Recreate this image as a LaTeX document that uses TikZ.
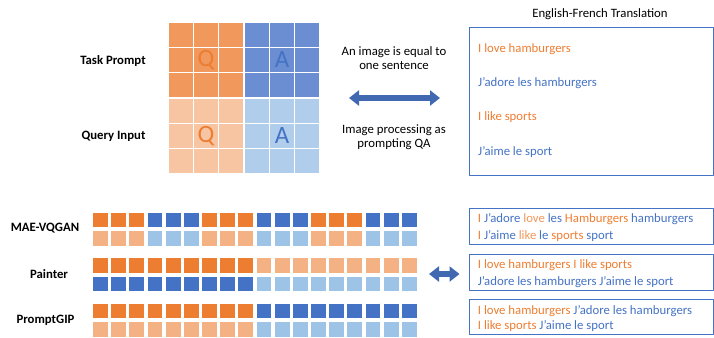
\documentclass[tikz,border=0pt]{standalone}
\usepackage{fontspec}
\setmainfont{Carlito}
\usepackage{xcolor}
\definecolor{qorange}{HTML}{ED7D31}
\definecolor{qorangel}{HTML}{F4B183}
\definecolor{qblue}{HTML}{4472C4}
\definecolor{qbluel}{HTML}{9DC3E6}
\definecolor{gorange}{HTML}{F1985C}
\definecolor{gorangel}{HTML}{F8C5A2}
\definecolor{gblue}{HTML}{6B8ED2}
\definecolor{gbluel}{HTML}{B0CEEB}
\definecolor{arrblue}{HTML}{4169B2}
\usepackage{tikz}
\usetikzlibrary{arrows.meta,positioning}
\tikzset{
  every picture/.style={line cap=round, line join=round},
  txt/.style={font=\fontsize{12.8}{14.6}\selectfont, text=black, inner sep=0pt},
  rowlbl/.style={txt, font=\fontsize{12.8}{14.6}\selectfont\bfseries},
  boxline/.style={txt, anchor=west, text height=9bp, text depth=3bp},
  tbox/.style={draw=qblue, line width=1.1bp, anchor=north west, minimum width=244.3bp, inner sep=0pt},
  dblarrow/.style={arrblue, line width=6bp, line cap=butt,
    {Triangle[length=10bp,width=15bp]}-{Triangle[length=10bp,width=15bp]}},
}
\begin{document}
\begin{tikzpicture}[x=1bp, y=-1bp,
  cell/.style={draw=white, line width=1.2bp},
  sq/.style={draw=white, line width=0.5bp},
  bigletter/.style={font=\fontsize{25}{25}\selectfont, inner sep=0pt},
]
\useasboundingbox (0,0) rectangle (714,337);
% prompt grid
\foreach \i in {0,...,5} \foreach \j in {0,...,5} {
  \ifnum\i<3 \ifnum\j<3 \def\c{gorange}\else\def\c{gblue}\fi
  \else\ifnum\j<3 \def\c{gorangel}\else\def\c{gbluel}\fi\fi
  \fill[cell, fill=\c] (168+\j*25.33, 22+\i*25.33) rectangle ++(25.33,25.33);
}
\node[bigletter, text=qorange] (q1) at (206,60) {Q};
\node[bigletter, text=qblue] (a1) at (282,60) {A};
\node[bigletter, text=qorange] (q2) at (206,136) {Q};
\node[bigletter, text=qblue] (a2) at (282,136) {A};
\node[rowlbl] (task) at (113,61) {Task Prompt};
\node[rowlbl] (query) at (113.5,136) {Query Input};
\node[txt, align=center] (equal) at (394,58) {An image is equal to\\one sentence};
\node[txt, align=center] (proc) at (394,137) {Image processing as\\prompting QA};
\coordinate (arrL) at (349,98);
\coordinate (arrR) at (440,98);
\draw[dblarrow] (arrL) -- (arrR);
% translation box
\node[txt] (title) at (600,14) {English-French Translation};
\node[tbox, minimum height=147.7bp] (trans) at (469,27.3) {};
\node[boxline, text=qorange] (en1) at (478,49.3) {I love hamburgers};
\node[boxline, text=qblue] (fr1) at (478,83.3) {J'adore les hamburgers};
\node[boxline, text=qorange] (en2) at (478,117.7) {I like sports};
\node[boxline, text=qblue] (fr2) at (478,152.3) {J'aime le sport};
% token rows
\foreach \k in {0,...,17} {
  \pgfmathtruncatemacro{\blk}{mod(floor(\k/3),2)}
  \pgfmathsetmacro{\xx}{92.3+\k*18.17}
  \ifnum\blk=0 \def\ca{qorange}\def\cb{qorangel}\else\def\ca{qblue}\def\cb{qbluel}\fi
  \fill[sq, fill=\ca] (\xx,212.3) rectangle ++(15.8,15.4);
  \fill[sq, fill=\cb] (\xx,230.5) rectangle ++(15.8,15.4);
  \ifnum\k<9 \def\ca{qorange}\def\cb{qblue}\else\def\ca{qorangel}\def\cb{qbluel}\fi
  \fill[sq, fill=\ca] (\xx,257.7) rectangle ++(15.8,15.4);
  \fill[sq, fill=\cb] (\xx,275.8) rectangle ++(15.8,15.4);
  \ifnum\k<9 \def\ca{qorange}\def\cb{qorangel}\else\def\ca{qblue}\def\cb{qbluel}\fi
  \fill[sq, fill=\ca] (\xx,303.3) rectangle ++(15.8,15.4);
  \fill[sq, fill=\cb] (\xx,321.5) rectangle ++(15.8,15.4);
}
\node[rowlbl] (mae) at (45,228.5) {MAE-VQGAN};
\node[rowlbl] (painter) at (49,274.5) {Painter};
\node[rowlbl] (gip) at (45.5,320) {PromptGIP};
\coordinate (sarrL) at (429,274);
\coordinate (sarrR) at (459.5,274);
\draw[dblarrow] (sarrL) -- (sarrR);
% outputs
\node[tbox, minimum height=36bp] (outmae) at (469,208.3) {};
\node[boxline] (mae1) at (477.7,219) {\textcolor{qorange}{I} \textcolor{qblue}{J'adore} \textcolor{qorange!80}{love} \textcolor{qblue}{les} \textcolor{qorange}{Hamburgers} \textcolor{qblue}{hamburgers}};
\node[boxline] (mae2) at (477.7,236.3) {\textcolor{qorange}{I} \textcolor{qblue}{J'aime} \textcolor{qorange!80}{like} \textcolor{qblue}{le} \textcolor{qorange}{sports} \textcolor{qblue}{sport}};
\node[tbox, minimum height=35.7bp] (outpainter) at (469,254.3) {};
\node[boxline, text=qorange] (pai1) at (477.7,265.7) {I love hamburgers I like sports};
\node[boxline, text=qblue] (pai2) at (477.7,282.3) {J'adore les hamburgers J'aime le sport};
\node[tbox, minimum height=35bp] (outgip) at (469,298.5) {};
\node[boxline] (gip1) at (477.7,311) {\textcolor{qorange}{I love hamburgers} \textcolor{qblue}{J'adore les hamburgers}};
\node[boxline] (gip2) at (477.7,326.7) {\textcolor{qorange}{I like sports} \textcolor{qblue}{J'aime le sport}};
\end{tikzpicture}
\end{document}
